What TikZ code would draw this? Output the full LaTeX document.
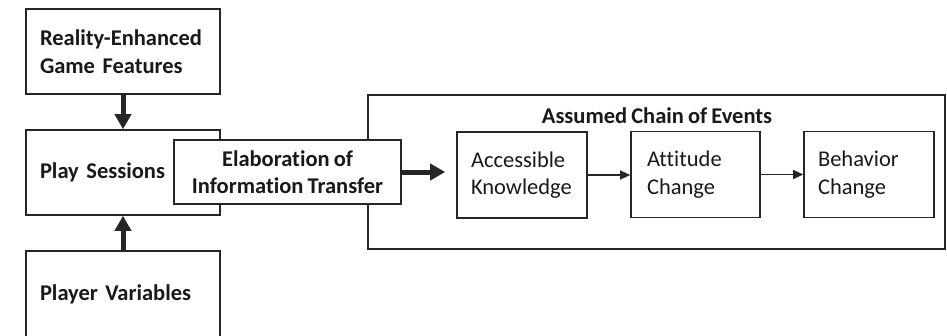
\documentclass[tikz,border=0pt]{standalone}
\usepackage{fontspec}
\setmainfont{Carlito}[Ligatures=NoCommon, WordSpace=0.8]
\usetikzlibrary{arrows.meta,positioning}
\newcommand\boxfont{\fontsize{22.5}{27.5}\selectfont}

\begin{document}
\begin{tikzpicture}[x=1pt, y=-1pt]
\tikzstyle{every node} = [rectangle, draw=black!85, line width=1.6pt, fill=white, inner sep=0pt, align=left, text=black!90, font=\boxfont]
\tikzset{colbox/.style={minimum width=194pt, minimum height=85pt, text width=166pt, font=\boxfont\bfseries}}
\tikzset{stepbox/.style={minimum height=86pt}}
\tikzset{big/.style={-{Triangle[length=15pt,width=16pt]}, line width=5pt, draw=black!85}}
\tikzset{small/.style={-{Triangle[length=10pt,width=9pt]}, line width=1.2pt, draw=black!85}}
\useasboundingbox (0,0) rectangle (947,335);
% assumed chain (drawn first, elaboration box sits on its edge)
\node (chain) [minimum width=577pt, minimum height=154pt] at (656.5,172) {};
\node (title) [draw=none, fill=none, anchor=base, font=\boxfont\bfseries] at (657,123) {Assumed Chain of Events};
\node (know) [stepbox, minimum width=130pt, text width=102pt] at (522,175) {Accessible\\Knowledge};
\node (att) [stepbox, minimum width=129pt, text width=97pt] at (695.5,174.5) {Attitude\\Change};
\node (beh) [stepbox, minimum width=130pt, text width=102pt] at (869,174.5) {Behavior\\Change};
% left column
\node (game) [colbox] at (123,51.5) {Reality-Enhanced\\Game Features};
\node (play) [colbox] at (123,172.5) {Play Sessions};
\node (player) [colbox, minimum height=86pt] at (123,294) {Player Variables};
\node (elab) [minimum width=227pt, minimum height=64pt, align=center, font=\boxfont\bfseries] at (287.5,172) {Elaboration of\\Information Transfer};
\path (game) edge [big] (play)
(player) edge [big] (play)
(elab.east) edge [big, shorten >=11pt] (elab.east -| know.west)
(know.east) edge [small] (know.east -| att.west)
(att.east) edge [small] (att.east -| beh.west);
\end{tikzpicture}
\end{document}
